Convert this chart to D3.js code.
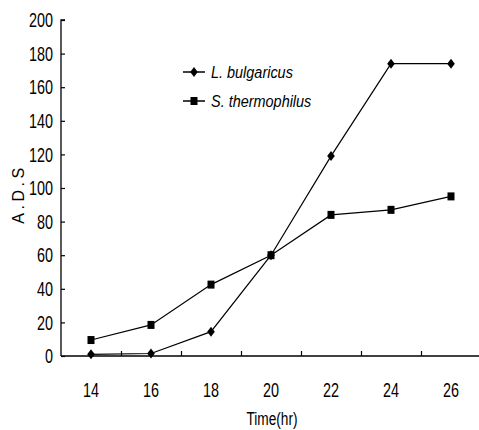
<!DOCTYPE html>
<html><head><meta charset="utf-8">
<script src="https://cdn.jsdelivr.net/npm/d3@7"></script>
<style>
html,body{margin:0;padding:0;background:#fff;}
svg{display:block;}
text{font-family:"Liberation Sans",Arial,sans-serif;fill:#000;}
</style></head><body>
<script>
const hours = [14, 16, 18, 20, 22, 24, 26];
const bulgaricus = [1, 1.5, 14.5, 60, 119, 174, 174];
const thermophilus = [9.5, 18.5, 42.5, 60, 84, 87, 95];
const seriesNames = ["L. bulgaricus", "S. thermophilus"];
const yTicks = [0, 20, 40, 60, 80, 100, 120, 140, 160, 180, 200];
const xMinorTicks = [15, 17, 19, 21, 23, 25];

const W = 479, H = 430;
const svg = d3.select("body").append("svg").attr("width", W).attr("height", H);

const x = d3.scaleLinear().domain([13, 27]).range([61, 481]);
const y = d3.scaleLinear().domain([0, 200]).range([356, 20]);
const SX = 0.72;

// y axis
const yAxis = d3.axisRight(y).tickValues(yTicks).tickSize(4).tickFormat("");
const gy = svg.append("g").attr("transform", `translate(${x(13)},0)`).call(yAxis);
gy.select(".domain").attr("stroke", "#000").attr("stroke-width", 1.3).attr("d", `M4,${y(200)}H0V${y(0)}`);
gy.selectAll(".tick line").attr("stroke", "#000").attr("stroke-width", 1.2);
svg.append("g").selectAll("text").data(yTicks).join("text")
  .attr("transform", d => `translate(53,${y(d)}) scale(${SX},1)`).attr("dy", "0.36em")
  .attr("text-anchor", "end").attr("font-size", 20).text(d => d);

// x axis
const xAxis = d3.axisTop(x).tickValues(xMinorTicks).tickSize(5).tickFormat("");
const gx = svg.append("g").attr("transform", `translate(0,${y(0)})`).call(xAxis);
gx.select(".domain").attr("stroke", "#000").attr("stroke-width", 1.3).attr("d", `M${x(13)},0H${x(27)}`);
gx.selectAll(".tick line").attr("stroke", "#000").attr("stroke-width", 1.2);
svg.append("g").selectAll("text").data(hours).join("text")
  .attr("transform", d => `translate(${x(d)},397) scale(${SX},1)`)
  .attr("text-anchor", "middle").attr("font-size", 20).text(d => d);

// axis titles
svg.append("text").attr("transform", `translate(272,425) scale(${SX},1)`).attr("text-anchor", "middle")
  .attr("font-size", 19).text("Time(hr)");
svg.append("text").attr("transform", "translate(24,194) rotate(-90)")
  .attr("text-anchor", "middle").attr("font-size", 16)
  .attr("letter-spacing", "3.5px").text("A.D.S");

const line = d3.line().x(d => x(d[0])).y(d => y(d[1]));
const diamond = (cx, cy) => `M${cx},${cy-5}L${cx+3.8},${cy}L${cx},${cy+5}L${cx-3.8},${cy}Z`;
const square = (cx, cy) => `M${cx-3.5},${cy-4}h7v8h-7Z`;

const dataSets = [
  {name: seriesNames[0], vals: bulgaricus, marker: diamond},
  {name: seriesNames[1], vals: thermophilus, marker: square}
];
dataSets.forEach(s => {
  const pts = hours.map((h, i) => [h, s.vals[i]]);
  svg.append("path").attr("d", line(pts)).attr("fill", "none")
    .attr("stroke", "#000").attr("stroke-width", 1.2);
  svg.append("g").selectAll("path").data(pts).join("path")
    .attr("d", d => s.marker(x(d[0]), y(d[1]))).attr("fill", "#000");
});

// legend
const legY = [72, 101];
dataSets.forEach((s, i) => {
  const ly = legY[i];
  svg.append("line").attr("x1", 183).attr("x2", 205).attr("y1", ly).attr("y2", ly)
    .attr("stroke", "#000").attr("stroke-width", 1.5);
  svg.append("path").attr("d", s.marker(194, ly)).attr("fill", "#000");
  svg.append("text").attr("transform", `translate(211,${ly}) scale(0.85,1)`).attr("dy", "0.36em")
    .attr("font-size", 17).attr("font-style", "italic").text(s.name);
});
</script>
</body></html>
